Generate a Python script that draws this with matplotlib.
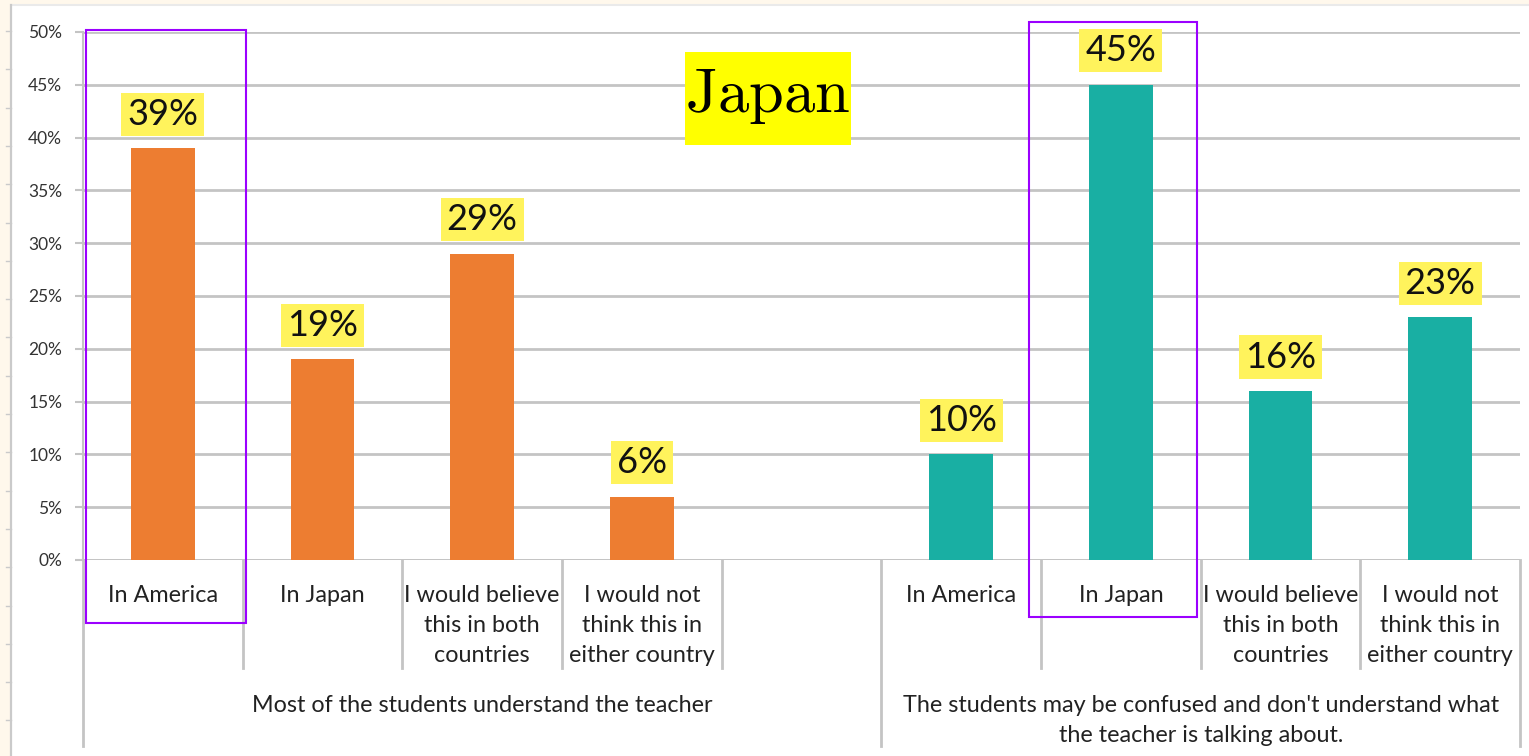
import matplotlib
matplotlib.use("Agg")
import matplotlib.pyplot as plt
from matplotlib.patches import Rectangle
from matplotlib.lines import Line2D
from matplotlib.path import Path
from matplotlib.ticker import PercentFormatter
import matplotlib.transforms as mtransforms

# ---- data -------------------------------------------------------------
groups = [
    "Most of the students understand the teacher",
    "The students may be confused and don't understand what\nthe teacher is talking about.",
]
categories = [
    "In America",
    "In Japan",
    "I would believe\nthis in both\ncountries",
    "I would not\nthink this in\neither country",
]
understand_pct = [39, 19, 29, 6]
confused_pct = [10, 45, 16, 23]
y_ticks = [0, 5, 10, 15, 20, 25, 30, 35, 40, 45, 50]
title = "Japan"

# ---- style ------------------------------------------------------------
W, H = 1529, 756
ORANGE = "#ED7D31"
TEAL = "#19AFA3"
GRID = "#C4C4C4"
LABEL_YELLOW = "#FFF35C"
PURPLE = "#9B00FF"
FONT = "Lato"
plt.rcParams["font.family"] = [FONT, "DejaVu Sans"]
plt.rcParams["mathtext.fontset"] = "cm"

fig = plt.figure(figsize=(W / 100, H / 100), dpi=100)
fig.patch.set_facecolor("#FFF8EC")


def fx(px):
    return px / W


def fy(py):
    return 1 - py / H


def label_box(x0, y0, width, height, mutation_size):
    """Rectangle with a little more padding horizontally than vertically."""
    px = 0.17 * mutation_size
    py = 0.14 * mutation_size
    x0, y0 = x0 - px, y0 - py
    x1, y1 = x0 + width + 2 * px, y0 + height + 2 * py
    return Path([(x0, y0), (x1, y0), (x1, y1), (x0, y1), (x0, y0)],
                closed=True)


# white page with ruler-like left edge
fig.add_artist(Rectangle((fx(12), 0), fx(W - 12), fy(5), transform=fig.transFigure,
                         facecolor="white", edgecolor="none", zorder=0))
fig.add_artist(Line2D([fx(12), 1], [fy(5), fy(5)], transform=fig.transFigure,
                      color="#EAEAEA", lw=1.5, zorder=1))
fig.add_artist(Line2D([fx(11), fx(11)], [fy(5), 0], transform=fig.transFigure,
                      color="#CACACA", lw=1.6, zorder=1))
yy = 31.0
while yy < H:
    fig.add_artist(Line2D([fx(6), fx(11)], [fy(yy), fy(yy)], transform=fig.transFigure,
                          color="#CACACA", lw=1.0, zorder=1))
    yy += 38.3

ax_left, ax_right, ax_top, ax_bottom = 83, 1520, 32, 560
ax = fig.add_axes([fx(ax_left), fy(ax_bottom), fx(ax_right - ax_left), (ax_bottom - ax_top) / H])
ax.set_facecolor("none")

# category slots: first group, one empty slot, second group
n1, n2 = len(understand_pct), len(confused_pct)
pos1 = list(range(n1))
pos2 = list(range(n1 + 1, n1 + 1 + n2))
n_slots = n1 + 1 + n2

bars1 = ax.bar(pos1, understand_pct, width=0.4, color=ORANGE, zorder=3)
bars2 = ax.bar(pos2, confused_pct, width=0.4, color=TEAL, zorder=3)

ax.set_xlim(-0.5, n_slots - 0.5)
ax.set_ylim(0, 50)
ax.set_yticks(y_ticks)
ax.yaxis.set_major_formatter(PercentFormatter(decimals=0))
ax.grid(axis="y", color=GRID, lw=2.0, zorder=0)
ax.set_axisbelow(True)
for s in ["top", "right", "bottom"]:
    ax.spines[s].set_visible(False)
ax.spines["left"].set_color(GRID)
ax.spines["left"].set_linewidth(1.5)
ax.tick_params(axis="y", length=6, width=1.5, color=GRID, pad=9,
               labelsize=12.5, labelcolor="#333333")
ax.set_xticks([])

# value labels on yellow boxes
for bars, vals in ((bars1, understand_pct), (bars2, confused_pct)):
    for b, v in zip(bars, vals):
        ax.annotate(f"{v}%", (b.get_x() + b.get_width() / 2, v),
                    xytext=(0, 24.5), textcoords="offset points",
                    ha="center", va="center", fontsize=26, color="#111111", zorder=5,
                    bbox=dict(boxstyle=label_box, facecolor=LABEL_YELLOW,
                              edgecolor="none"))

# multi-level category axis
tx = mtransforms.blended_transform_factory(ax.transData, fig.transFigure)
lab_kw = dict(transform=tx, ha="center", va="top", fontsize=16.8,
              color="#222222", linespacing=1.52, clip_on=False)
for p, c in zip(pos1, categories):
    ax.text(p, fy(585), c, **lab_kw)
for p, c in zip(pos2, categories):
    ax.text(p, fy(585), c, **lab_kw)

g1_center = (pos1[0] - 0.5 + pos2[0] - 0.5) / 2
g2_center = (pos2[0] - 0.5 + pos2[-1] + 0.5) / 2
ax.text(g1_center, fy(695), groups[0], **lab_kw)
ax.text(g2_center, fy(695), groups[1], **lab_kw)

long_edges = [-0.5, pos2[0] - 0.5, pos2[-1] + 0.5]
for e in [x + 0.5 for x in range(-1, n_slots)]:
    bottom = 746 if any(abs(e - le) < 1e-9 for le in long_edges) else 668
    ax.add_line(Line2D([e, e], [fy(ax_bottom), fy(bottom)], transform=tx,
                       color=GRID, lw=2.0, clip_on=False))
ax.axhline(0, color=GRID, lw=2.0, zorder=2)

# title on yellow panel
fig.add_artist(Rectangle((fx(685), fy(145)), fx(166), (145 - 52) / H,
                         transform=fig.transFigure, facecolor="#FFFF00",
                         edgecolor="none", zorder=4))
fig.text(fx(767), fy(112), r"$\mathrm{%s}$" % title, ha="center", va="baseline",
         fontsize=45, color="black", zorder=5)

# highlight frames
for (x0, y0, x1, y1) in [(86, 30, 246, 623), (1029, 22, 1197, 617)]:
    fig.add_artist(Rectangle((fx(x0), fy(y1)), fx(x1 - x0), (y1 - y0) / H,
                             transform=fig.transFigure, facecolor="none",
                             edgecolor=PURPLE, lw=1.5, zorder=6))

fig.savefig("out.png", dpi=100, facecolor=fig.get_facecolor())
